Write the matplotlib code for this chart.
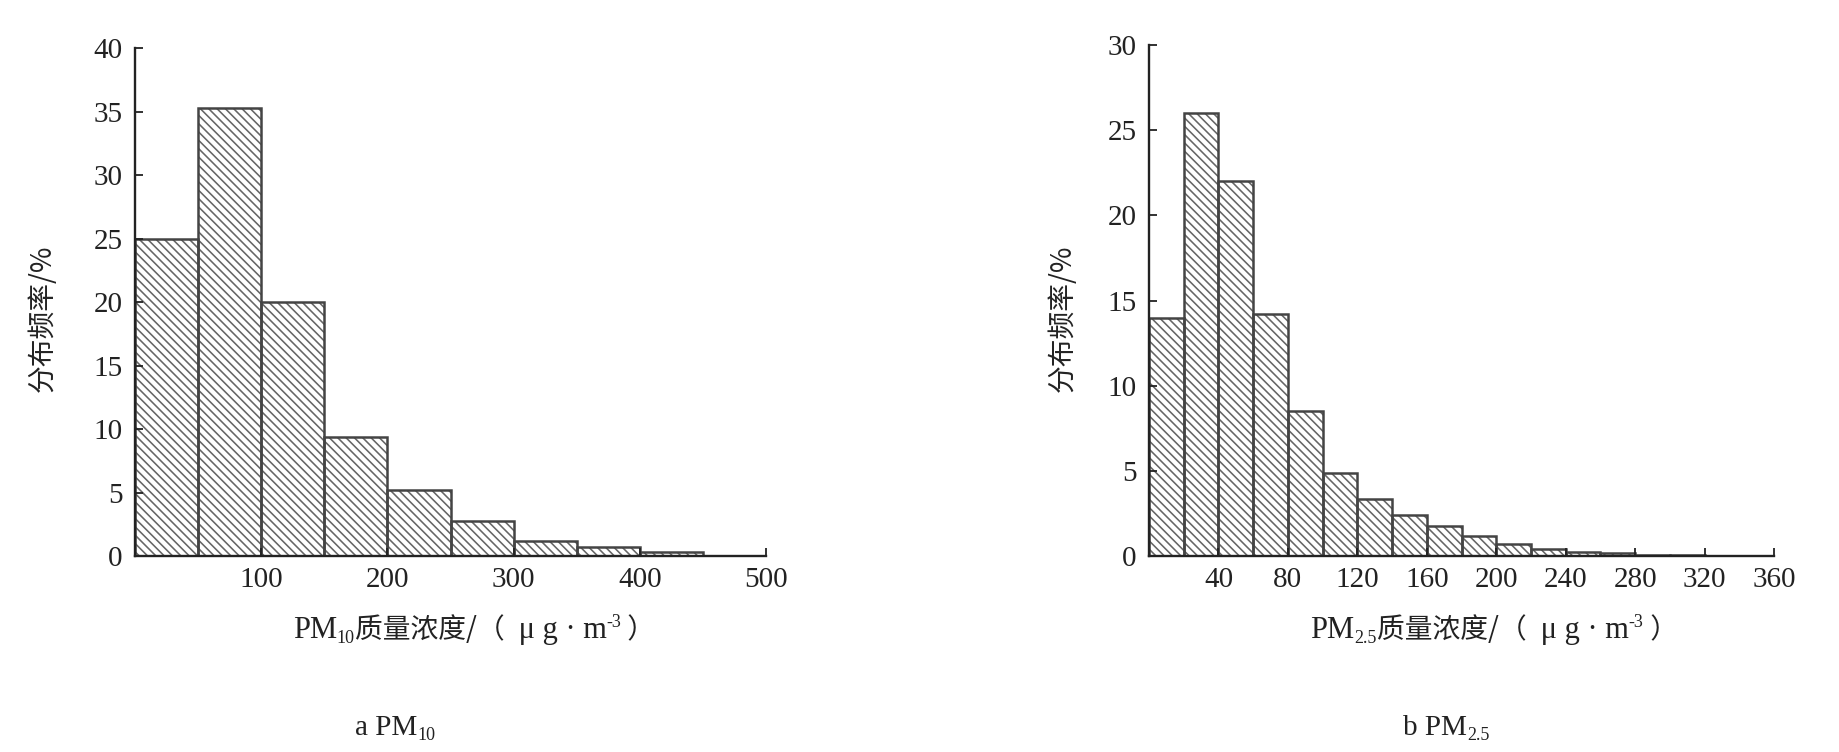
import matplotlib
matplotlib.use("Agg")
import matplotlib.pyplot as plt
import numpy as np

# ---------------- data ----------------
pm10_edges = [0, 50, 100, 150, 200, 250, 300, 350, 400, 450, 500]
pm10_freq = [25.0, 35.3, 20.0, 9.4, 5.2, 2.75, 1.15, 0.7, 0.3, 0.0]
pm10_xticks = [100, 200, 300, 400, 500]
pm10_yticks = [0, 5, 10, 15, 20, 25, 30, 35, 40]

pm25_edges = [0, 20, 40, 60, 80, 100, 120, 140, 160, 180, 200, 220, 240,
              260, 280, 300, 320, 340, 360]
pm25_freq = [14.0, 26.0, 22.0, 14.2, 8.5, 4.9, 3.35, 2.4, 1.78, 1.18, 0.72,
             0.4, 0.25, 0.15, 0.08, 0.03, 0.0, 0.0]
pm25_xticks = [40, 80, 120, 160, 200, 240, 280, 320, 360]
pm25_yticks = [0, 5, 10, 15, 20, 25, 30]

ylabel = "分布频率/%"

SERIF = ["Liberation Serif", "DejaVu Serif"]
CJK = ["Noto Sans CJK SC", "DejaVu Sans"]
TXT = "#222222"
EDGE = "#444444"
HATCH = "#666666"

plt.rcParams["hatch.linewidth"] = 1.15

W, H = 1839, 752
fig = plt.figure(figsize=(W / 100, H / 100), dpi=100)
fig.patch.set_facecolor("white")


def make_axes(rect, edges, freq, xticks, yticks, xmax, ymax):
    ax = fig.add_axes(rect)
    edges = np.asarray(edges, dtype=float)
    widths = np.diff(edges)
    # hatched fill
    ax.bar(edges[:-1], freq, width=widths, align="edge", facecolor="white",
           edgecolor=HATCH, linewidth=0, hatch="\\\\\\\\")
    # outlines
    ax.bar(edges[:-1], freq, width=widths, align="edge", fill=False,
           edgecolor=EDGE, linewidth=1.8)
    ax.set_xlim(0, xmax)
    ax.set_ylim(0, ymax)
    ax.set_xticks(xticks)
    ax.set_yticks(yticks)
    for s in ["top", "right"]:
        ax.spines[s].set_visible(False)
    for s in ["left", "bottom"]:
        ax.spines[s].set_linewidth(1.7)
        ax.spines[s].set_color("#222222")
        ax.spines[s].set_zorder(5)
    ax.tick_params(direction="in", length=6, width=1.3, colors="#222222",
                   labelsize=21, labelcolor=TXT)
    ax.tick_params(axis="x", pad=8)
    ax.tick_params(axis="y", pad=9)
    for lab in ax.get_xticklabels() + ax.get_yticklabels():
        lab.set_fontfamily(SERIF)
    ax.set_facecolor("white")
    return ax


axL = make_axes([135 / W, 1 - 556 / H, 631 / W, 508 / H],
                pm10_edges, pm10_freq, pm10_xticks, pm10_yticks, 500, 40)
axR = make_axes([1149 / W, 1 - 556 / H, 625 / W, 511 / H],
                pm25_edges, pm25_freq, pm25_xticks, pm25_yticks, 360, 30)

# y labels
fig.text(43 / W, 1 - 318 / H, ylabel, rotation=90, ha="center", va="center",
         fontsize=20, family=CJK, color=TXT)
fig.text(1063 / W, 1 - 318 / H, ylabel, rotation=90, ha="center", va="center",
         fontsize=20, family=CJK, color=TXT)


# rich text (sub/superscripts) laid out after measuring
rich_groups = []


def rich(xc, ybase, pieces):
    arts = []
    for s, size, dy, fam in pieces:
        t = fig.text(0, 0, s, fontsize=size, family=fam, color=TXT,
                     ha="left", va="baseline")
        arts.append((t, dy))
    rich_groups.append((xc, ybase, arts))


xl10 = [("PM", 22, 0, SERIF), ("10", 13, -5, SERIF),
        ("质量浓度/（ ", 20, 0, CJK), (" μ g · m", 22, 0, SERIF),
        ("-3", 13, 11, SERIF), (" ）", 20, 0, CJK)]
xl25 = [("PM", 22, 0, SERIF), ("2.5", 13, -5, SERIF),
        ("质量浓度/（ ", 20, 0, CJK), (" μ g · m", 22, 0, SERIF),
        ("-3", 13, 11, SERIF), (" ）", 20, 0, CJK)]
rich(474, 638, xl10)
rich(1494, 638, xl25)
rich(395, 735, [("a PM", 21, 0, SERIF), ("10", 13, -5, SERIF)])
rich(1446, 735, [("b PM", 21, 0, SERIF), ("2.5", 13, -5, SERIF)])

fig.canvas.draw()
r = fig.canvas.get_renderer()
for xc, ybase, arts in rich_groups:
    widths = [t.get_window_extent(r).width for t, _ in arts]
    total = sum(widths)
    x = xc - total / 2
    for (t, dy), w in zip(arts, widths):
        t.set_position((x / W, (H - ybase + dy) / H))
        x += w

fig.savefig("out.png", dpi=100, facecolor="white")
